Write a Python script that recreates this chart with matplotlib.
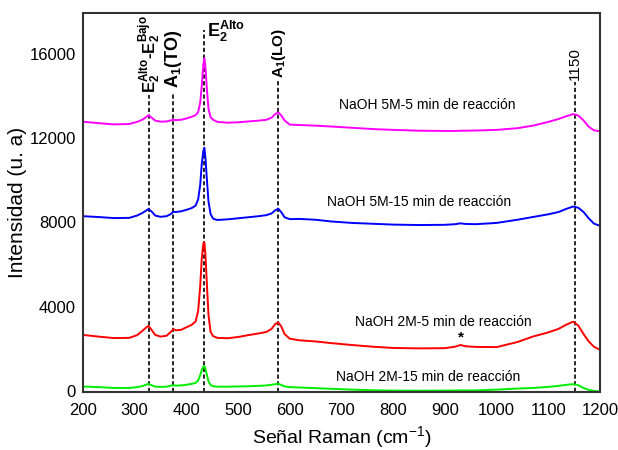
import matplotlib
matplotlib.use("Agg")
import matplotlib.pyplot as plt
import numpy as np

plt.rcParams['font.family'] = ['Liberation Sans', 'DejaVu Sans']
plt.rcParams['mathtext.fontset'] = 'custom'
plt.rcParams['mathtext.rm'] = 'Liberation Sans'
plt.rcParams['mathtext.bf'] = 'Liberation Sans:bold'
plt.rcParams['mathtext.it'] = 'Liberation Sans:italic'

# Raman shift (cm-1)
shift = [200, 230, 260, 290, 305, 315, 322, 327, 333, 340, 350, 362, 370, 375, 380,
         390, 400, 410, 418, 423, 427, 430, 433, 435, 437, 440, 443, 447, 452, 460,
         480, 500, 520, 540, 555, 565, 572, 578, 584, 590, 600, 620, 650, 680, 720,
         760, 800, 850, 900, 920, 930, 940, 960, 1000, 1040, 1070, 1100, 1120, 1135,
         1148, 1158, 1168, 1178, 1188, 1200]

naoh_5m_5min = [12790, 12720, 12660, 12680, 12780, 12880, 13000, 13100, 12980, 12840,
                12790, 12800, 12850, 12880, 12860, 12880, 12940, 13020, 13100, 13250,
                13700, 14500, 15500, 15800, 15400, 14300, 13400, 13000, 12880, 12780,
                12740, 12760, 12800, 12840, 12880, 12980, 13150, 13230, 13080, 12850,
                12650, 12630, 12600, 12560, 12500, 12440, 12400, 12360, 12350, 12350,
                12360, 12360, 12370, 12400, 12480, 12600, 12780, 12920, 13050, 13150,
                13080, 12850, 12550, 12380, 12330]

naoh_5m_15min = [8300, 8260, 8210, 8220, 8330, 8450, 8560, 8640, 8520, 8330,
                 8270, 8300, 8400, 8510, 8500, 8530, 8600, 8680, 8800, 9100,
                 9800, 10800, 11400, 11550, 11100, 10000, 9000, 8400, 8180, 8120,
                 8150, 8200, 8250, 8300, 8350, 8430, 8580, 8650, 8480, 8250,
                 8160, 8170, 8130, 8050, 7980, 7940, 7900, 7880, 7890, 7920,
                 7960, 7930, 7920, 7980, 8130, 8260, 8390, 8500, 8650, 8760,
                 8700, 8500, 8200, 7950, 7840]

naoh_2m_5min = [2660, 2580, 2510, 2520, 2650, 2850, 3000, 3090, 2900, 2660,
                2580, 2620, 2800, 2930, 2880, 2900, 3020, 3130, 3300, 3800,
                5000, 6300, 7000, 7050, 6500, 5000, 3600, 2800, 2600, 2520,
                2500, 2560, 2650, 2730, 2800, 2950, 3180, 3250, 3050, 2700,
                2480, 2400, 2350, 2270, 2180, 2100, 2040, 2020, 2030, 2100,
                2180, 2120, 2090, 2080, 2320, 2580, 2780, 2950, 3150, 3290,
                3100, 2700, 2350, 2100, 1950]

naoh_2m_15min = [210, 180, 140, 140, 180, 230, 290, 330, 270, 200,
                 190, 200, 250, 270, 250, 260, 290, 330, 380, 500,
                 750, 1000, 1150, 1180, 1050, 750, 450, 280, 220, 200,
                 200, 210, 220, 240, 260, 290, 320, 340, 280, 210,
                 180, 160, 130, 100, 60, 30, 15, 10, 15, 20,
                 25, 20, 25, 60, 110, 140, 190, 240, 290, 320,
                 270, 140, 50, 0, -30]

series = [naoh_5m_5min, naoh_5m_15min, naoh_2m_5min, naoh_2m_15min]
colors = ['#ff00ff', '#0000ff', '#ff0000', '#00ee00']
labels = ['NaOH 5M-5 min de reacción', 'NaOH 5M-15 min de reacción',
          'NaOH 2M-5 min de reacción', 'NaOH 2M-15 min de reacción']
label_pos = [(866, 13580), (851, 8990), (897, 3290), (868, 680)]

# marked modes: position, top of dashed line
modes = [327, 375, 435, 578, 1152]
mode_top = [14050, 14200, 17150, 14770, 14670]

fig = plt.figure(figsize=(6.18, 4.5), dpi=100)
ax = fig.add_axes([0.134, 0.129, 0.837, 0.842])

for xm, yt in zip(modes, mode_top):
    ax.plot([xm, xm], [-50, yt], color='black', lw=1.2, ls=(0, (2.5, 1.5)), zorder=1)

for y, c in zip(series, colors):
    ax.plot(shift, y, color=c, lw=1.4, zorder=2)

for lab, (lx, ly) in zip(labels, label_pos):
    ax.text(lx, ly, lab, ha='center', va='center', fontsize=10)

ax.text(931, 2520, '*', ha='center', va='center', fontsize=11, fontweight='bold')

# mode labels
ax.text(329, 14150, r'$\mathbf{E_2^{Alto}}$-$\mathbf{E_2^{Bajo}}$', rotation=90,
        ha='center', va='bottom', fontsize=12, fontweight='bold')
ax.text(376, 14390, r'$\mathbf{A_1}$(TO)', rotation=90, ha='center', va='bottom',
        fontsize=13, fontweight='bold')
ax.text(441, 16800, r'$\mathbf{E_2^{Alto}}$', ha='left', va='baseline',
        fontsize=13, fontweight='bold')
ax.text(579, 14860, r'$\mathbf{A_1}$(LO)', rotation=90, ha='center', va='bottom',
        fontsize=11, fontweight='bold')
ax.text(1152, 14770, '1150', rotation=90, ha='center', va='bottom', fontsize=11)

ax.set_xlim(200, 1200)
ax.set_ylim(-50, 17950)
ax.set_xticks(np.arange(200, 1201, 100))
ax.set_yticks([0, 4000, 8000, 12000, 16000])
ax.tick_params(length=0, labelsize=12)
ax.tick_params(axis='x', pad=8)
ax.tick_params(axis='y', pad=5)
for s in ax.spines.values():
    s.set_color('#333333')
    s.set_linewidth(1.5)

ax.set_xlabel('Señal Raman (cm$^{-1}$)', fontsize=14, labelpad=4)
ax.set_ylabel('Intensidad (u. a)', fontsize=15, labelpad=2)

fig.savefig('out.png', dpi=100)
